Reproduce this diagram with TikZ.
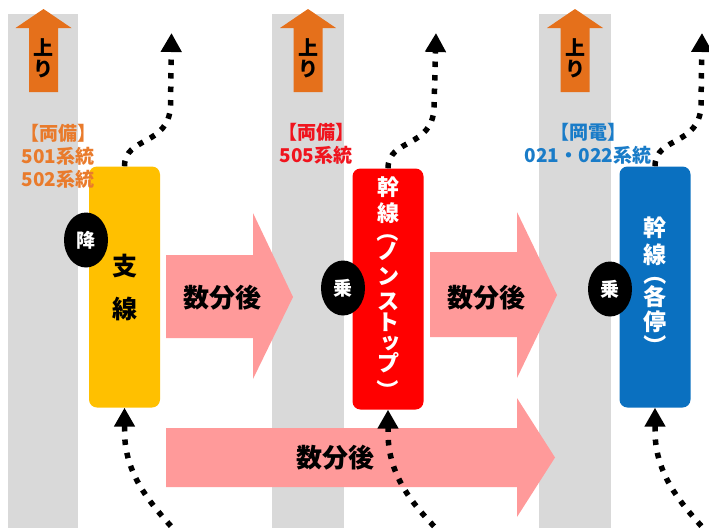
\documentclass[tikz,border=0pt]{standalone}
\usepackage{fontspec}
\usepackage{graphicx}
\newfontfamily\jp{Noto Sans CJK JP}
\usetikzlibrary{arrows.meta,shapes.geometric,calc}
\newcommand{\mylp}{\rotatebox[origin=c]{-90}{（}}
\newcommand{\myrp}{\rotatebox[origin=c]{-90}{）}}
\newcommand{\mysmalltsu}{{\addfontfeature{RawFeature=+vert}ッ}}
\definecolor{grayc}{HTML}{D9D9D9}
\definecolor{orangec}{HTML}{E5701B}
\definecolor{orlabel}{HTML}{E97B2C}
\definecolor{redc}{HTML}{FF0000}
\definecolor{redlabel}{HTML}{F0141E}
\definecolor{bluec}{HTML}{0A70C0}
\definecolor{bluelabel}{HTML}{1A7CC8}
\definecolor{yellowc}{HTML}{FFC000}
\definecolor{pinkc}{HTML}{FF9A9A}
\begin{document}
\begin{tikzpicture}[x=1pt,y=-1pt,
  colbar/.style={fill=grayc},
  uparrow/.style={fill=orangec},
  uptext/.style={font=\jp\bfseries\fontsize{20}{21}\selectfont, align=center, inner sep=0pt, text=black},
  pinkarrow/.style={fill=pinkc},
  pinktext/.style={font=\jp\bfseries\fontsize{26}{28}\selectfont, inner sep=0pt, text=black},
  linebox/.style={rounded corners=8pt, minimum width=71pt, minimum height=241pt, inner sep=0pt, align=center, font=\jp\bfseries\fontsize{23}{25}\selectfont},
  stopmark/.style={ellipse, fill=black, text=white, minimum width=44pt, minimum height=55pt, inner sep=0pt, font=\jp\bfseries\fontsize{19}{20}\selectfont},
  lab/.style={font=\jp\bfseries\fontsize{19}{23}\selectfont, align=center, inner sep=0pt},
  dots/.style={line width=5.5pt, dash pattern=on 5.5pt off 8pt, -{Triangle[width=20pt,length=19pt]}}
]
\useasboundingbox (0,0) rectangle (709,528);
% grey columns
\fill[colbar] (8,14) rectangle (78,528);
\fill[colbar] (272,14) rectangle (344,528);
\fill[colbar] (539,14) rectangle (611,528);
% orange up arrows
\foreach \cx/\nm in {43.5/ua,308/ub,575/uc}{
  \fill[uparrow] (\cx-14.5,92) -- (\cx-14.5,28) -- (\cx-28,28) -- (\cx,9) -- (\cx+28,28) -- (\cx+14.5,28) -- (\cx+14.5,92) -- cycle;
  \node[uptext] (\nm) at (\cx,58) {上\\り};
}
% pink arrows
\fill[pinkarrow] (166,255) -- (253,255) -- (253,213) -- (293,297) -- (253,379) -- (253,338) -- (166,338) -- cycle;
\node[pinktext] (p1) at (222,298) {数分後};
\fill[pinkarrow] (430,252) -- (517,252) -- (517,212) -- (557,295) -- (517,378) -- (517,337) -- (430,337) -- cycle;
\node[pinktext] (p2) at (486,298) {数分後};
\fill[pinkarrow] (166,428) -- (517,428) -- (517,398) -- (555,457.5) -- (517,517) -- (517,487) -- (166,487) -- cycle;
\node[pinktext] (p3) at (335,458) {数分後};
% boxes
\node[linebox, fill=yellowc, text=black, font=\jp\bfseries\fontsize{25}{43}\selectfont] (Y) at (124.5,287) {支\\線};
\node[linebox, fill=redc, text=white, font=\jp\bfseries\fontsize{22}{25}\selectfont] (R) at (388,289) {幹\\[1pt]線\\[-7pt]\mylp\\[-5pt]ノ\\ン\\ス\\[-4pt]ト\\[-4pt]\mysmalltsu\\[-5pt]プ\\[2pt]\myrp};
\node[linebox, fill=bluec, text=white] (B) at (655,287) {幹\\[2pt]線\\[-6pt]\mylp\\[-2pt]各\\停\\[-1pt]\myrp};
% stop marks
\node[stopmark] (k1) at (86,240) {降};
\node[stopmark] (k2) at (343,288) {乗};
\node[stopmark] (k3) at (610,289) {乗};
% labels
\node[lab, text=orlabel] (l1) at (58,156) {【両備】\\501系統\\502系統};
\node[lab, text=redlabel] (l2) at (316,143.5) {【両備】\\505系統};
\node[lab, text=bluelabel] (l3) at (588,143.5) {【岡電】\\021・022系統};
% dotted connectors
\coordinate (Yup) at (171.5,33);
\coordinate (Rup) at (436,33);
\coordinate (Bup) at (702,33);
\coordinate (Ylow) at (180,536);
\coordinate (Rlow) at (443.5,536);
\coordinate (Blow) at (710.5,536);
\foreach \b in {Y,R,B}{
  \draw[dots] (\b.north) .. controls ($(\b.north)+(0,-30)$) and ($(\b.north)+(44,-20)$) .. ($(\b.north)+(46,-60)$) -- (\b up);
  \draw[dots] (\b low) .. controls ($(\b.south)+(27.5,98)$) and ($(\b.south)+(0,68)$) .. ($(\b.south)+(0,23)$) -- (\b.south);
}
\end{tikzpicture}
\end{document}
